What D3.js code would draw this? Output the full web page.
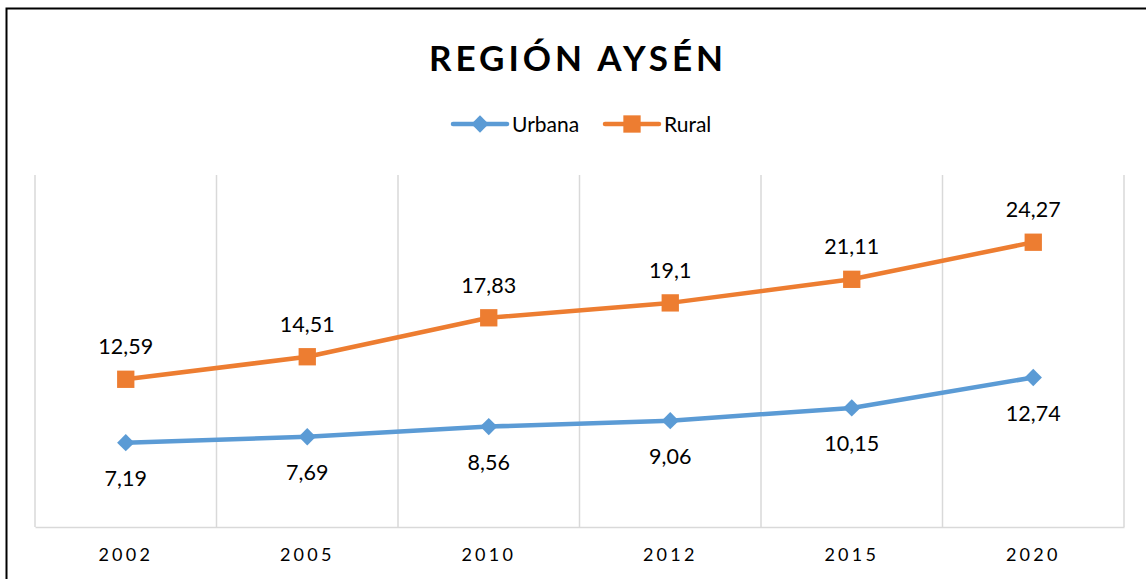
<!DOCTYPE html>
<html>
<head>
<meta charset="utf-8">
<script src="https://cdn.jsdelivr.net/npm/d3@7"></script>
<style>
  body { margin: 0; background: #fff; }
  svg { display: block; font-family: Lato, "Open Sans", sans-serif; }
</style>
</head>
<body>
<div id="chart"></div>
<script>
// ---------- data ----------
var years = ["2002", "2005", "2010", "2012", "2015", "2020"];
var urbana = [7.19, 7.69, 8.56, 9.06, 10.15, 12.74];
var rural = [12.59, 14.51, 17.83, 19.1, 21.11, 24.27];
var seriesNames = ["Urbana", "Rural"];
var seriesColors = ["#5b9bd5", "#ed7d31"];

var width = 1146,
    height = 579,
    margin = {top: 175, bottom: 52, left: 35, right: 22};

var svg = d3.select("#chart").append("svg")
    .attr("width", width)
    .attr("height", height);

// outer border
svg.append("rect")
    .attr("x", 6.5).attr("y", 8.5)
    .attr("width", width + 10).attr("height", height + 10)
    .style("fill", "none")
    .style("stroke", "#000")
    .style("stroke-width", 2);

var x = d3.scaleBand()
    .domain(years)
    .range([margin.left, width - margin.right]);

var y = d3.scaleLinear()
    .domain([0, 30])
    .range([height - margin.bottom, margin.top]);

// vertical gridlines at category edges
var edges = years.map(function(d){ return x(d); }).concat([x.range()[1]]);
svg.selectAll("line.grid")
    .data(edges)
    .enter()
    .append("line")
    .attr("class", "grid")
    .attr("x1", function(d){ return d; })
    .attr("x2", function(d){ return d; })
    .attr("y1", y(30))
    .attr("y2", y(0))
    .style("stroke", "#d9d9d9")
    .style("stroke-width", 1.5);

// baseline + category axis
var xAxis = svg.append("g")
    .attr("transform", "translate(0," + y(0) + ")")
    .call(d3.axisBottom(x).tickSize(0).tickPadding(21));
xAxis.select(".domain").style("stroke", "#d9d9d9").style("stroke-width", 1.5);
xAxis.selectAll("text")
    .style("font-family", "Lato, 'Open Sans', sans-serif")
    .style("font-size", "18px")
    .style("letter-spacing", "3.2px")
    .style("fill", "#000");

var cx = function(i){ return x(years[i]) + x.bandwidth() / 2; };

var line = d3.line()
    .x(function(d, i){ return cx(i); })
    .y(function(d){ return y(d); });

var allSeries = [urbana, rural];

allSeries.forEach(function(vals, s) {
    svg.append("path")
        .datum(vals)
        .attr("d", line)
        .style("fill", "none")
        .style("stroke", seriesColors[s])
        .style("stroke-width", 4.5)
        .style("stroke-linejoin", "round");
});

var diamond = d3.symbol().type(d3.symbolSquare).size(150);
var square = d3.symbol().type(d3.symbolSquare).size(300);

// urbana markers (diamonds)
svg.selectAll("path.urb")
    .data(urbana)
    .enter()
    .append("path")
    .attr("class", "urb")
    .attr("d", diamond)
    .attr("transform", function(d, i){ return "translate(" + cx(i) + "," + y(d) + ") rotate(45)"; })
    .style("fill", seriesColors[0]);

// rural markers (squares)
svg.selectAll("path.rur")
    .data(rural)
    .enter()
    .append("path")
    .attr("class", "rur")
    .attr("d", square)
    .attr("transform", function(d, i){ return "translate(" + cx(i) + "," + y(d) + ")"; })
    .style("fill", seriesColors[1]);

var fmt = function(v){ return String(v).replace(".", ","); };

// data labels
svg.selectAll("text.lblU")
    .data(urbana)
    .enter()
    .append("text")
    .attr("class", "lblU")
    .attr("x", function(d, i){ return cx(i); })
    .attr("y", function(d){ return y(d) + 43; })
    .attr("text-anchor", "middle")
    .style("font-size", "21.5px")
    .style("fill", "#000")
    .text(fmt);

svg.selectAll("text.lblR")
    .data(rural)
    .enter()
    .append("text")
    .attr("class", "lblR")
    .attr("x", function(d, i){ return cx(i); })
    .attr("y", function(d){ return y(d) - 25; })
    .attr("text-anchor", "middle")
    .style("font-size", "21.5px")
    .style("fill", "#000")
    .text(fmt);

// title
svg.append("text")
    .attr("x", 578)
    .attr("y", 71)
    .attr("text-anchor", "middle")
    .style("font-size", "35px")
    .style("font-weight", "bold")
    .style("letter-spacing", "4px")
    .style("fill", "#000")
    .text("REGIÓN AYSÉN");

// legend
var legendX = [453, 605];
seriesNames.forEach(function(name, s) {
    var g = svg.append("g").attr("transform", "translate(" + legendX[s] + ",124)");
    g.append("line")
        .attr("x1", 0).attr("x2", 54)
        .style("stroke", seriesColors[s])
        .style("stroke-width", 4.5)
        .style("stroke-linecap", "round");
    g.append("path")
        .attr("d", s === 0 ? diamond : square)
        .attr("transform", "translate(27,0)" + (s === 0 ? " rotate(45)" : ""))
        .style("fill", seriesColors[s]);
    g.append("text")
        .attr("x", 59)
        .attr("y", 7.5)
        .style("font-size", "21px")
        .style("fill", "#000")
        .text(name);
});
</script>
</body>
</html>
